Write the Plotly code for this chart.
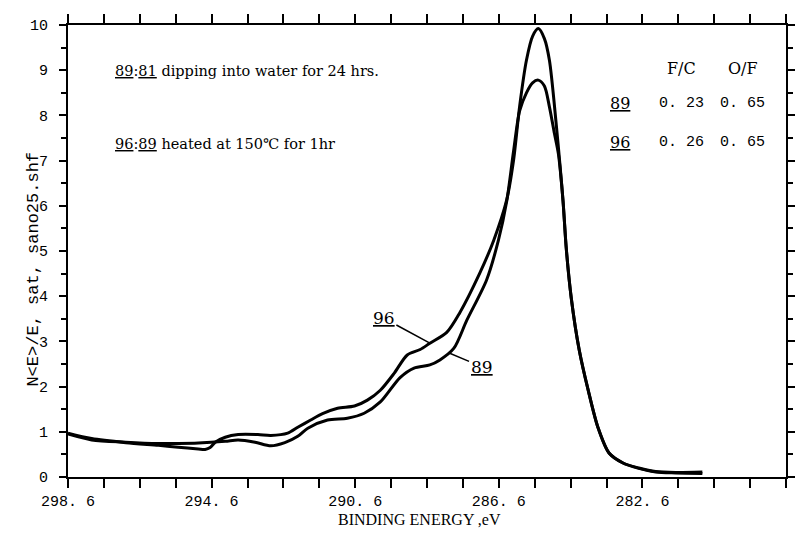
import numpy as np
import plotly.graph_objects as go

# C1s spectra (binding energy in eV, normalised intensity)
energy_96 = [298.60, 297.94, 296.99, 296.08, 295.53, 294.97, 294.78, 294.64, 294.50, 294.22,
             293.86, 293.31, 292.95, 292.48, 292.20, 291.84, 291.51, 291.09, 290.62, 290.26,
             289.90, 289.51, 289.15, 288.79, 288.52, 288.05, 287.69, 287.13, 286.74, 286.38,
             286.19, 286.02, 285.83, 285.66, 285.50, 285.33, 285.19, 285.00, 284.89, 284.81,
             284.72, 284.58, 284.36, 284.11, 283.84, 283.53, 283.14, 282.70, 282.23, 281.67,
             280.93]
counts_96 = [0.97, 0.85, 0.76, 0.70, 0.66, 0.62, 0.61, 0.65, 0.77, 0.88,
             0.94, 0.94, 0.92, 0.97, 1.10, 1.26, 1.40, 1.52, 1.57, 1.70,
             1.92, 2.30, 2.70, 2.82, 2.96, 3.20, 3.63, 4.51, 5.24, 6.13,
             7.00, 8.20, 9.22, 9.75, 9.92, 9.70, 9.22, 7.80, 6.85, 6.10,
             5.05, 3.95, 2.81, 1.92, 1.10, 0.53, 0.31, 0.20, 0.12, 0.10,
             0.11]

energy_89 = [298.60, 297.94, 296.99, 296.08, 295.53, 294.97, 294.22, 293.86, 293.39, 292.95,
             292.56, 292.20, 291.92, 291.37, 290.82, 290.35, 289.90, 289.35, 288.96, 288.52,
             288.24, 287.85, 287.49, 286.94, 286.61, 286.38, 286.19, 286.02, 285.83, 285.66,
             285.50, 285.33, 285.19, 285.05, 284.94, 284.81, 284.72, 284.58, 284.36, 284.11,
             283.84, 283.53, 283.14, 282.70, 282.23, 281.67, 280.93]
counts_89 = [0.95, 0.82, 0.77, 0.74, 0.74, 0.75, 0.79, 0.82, 0.77, 0.69,
             0.76, 0.90, 1.08, 1.26, 1.30, 1.41, 1.66, 2.20, 2.41, 2.48,
             2.59, 2.85, 3.47, 4.36, 5.24, 6.10, 7.20, 8.10, 8.50, 8.72,
             8.78, 8.65, 8.19, 7.60, 7.15, 6.10, 5.05, 3.95, 2.81, 1.92,
             1.10, 0.53, 0.31, 0.19, 0.11, 0.09, 0.08]

# axis ticks: one tick per eV, labels every 4 eV
x_tick_vals = [round(298.6 - i, 1) for i in range(21)]
x_tick_labels = {298.6: "298. 6", 294.6: "294. 6", 290.6: "290. 6",
                 286.6: "286. 6", 282.6: "282. 6", 278.6: "278. 5"}
x_tick_text = [x_tick_labels.get(v, "") for v in x_tick_vals]
y_tick_vals = list(range(0, 11))

# composition table
ratio_headers = ["F/C", "O/F"]
ratio_samples = ["89", "96"]
ratio_fc = ["0. 23", "0. 26"]
ratio_of = ["0. 65", "0. 65"]

SERIF = "DejaVu Serif, Liberation Serif, serif"
TIMES = "Liberation Serif, serif"
MONO = "Liberation Mono, DejaVu Sans Mono, monospace"

fig = go.Figure()
for e, c, name in [(energy_96, counts_96, "96"), (energy_89, counts_89, "89")]:
    fig.add_trace(go.Scatter(
        x=e, y=c, mode="lines", name=name,
        line=dict(color="black", width=3, shape="spline", smoothing=0.8),
        showlegend=False, hoverinfo="skip",
    ))

axis_common = dict(
    showline=True, linecolor="black", linewidth=2,
    mirror="ticks", ticks="outside", tickcolor="black",
    showgrid=False, zeroline=False,
    tickfont=dict(family=MONO, size=15, color="black"),
)

fig.update_xaxes(
    **axis_common,
    range=[298.6, 278.6], autorange=False,
    tickmode="array", tickvals=x_tick_vals, ticktext=x_tick_text,
    ticklen=9, tickwidth=2,
)
fig.update_yaxes(
    **axis_common,
    range=[0, 10], autorange=False,
    tickvals=y_tick_vals, ticklen=7, tickwidth=2,
    ticklabelstandoff=8,
    minor=dict(dtick=0.5, tick0=0, ticks="outside", ticklen=5,
               tickwidth=2, tickcolor="black", showgrid=False),
)

annotations = []

# sample history notes
annotations.append(dict(
    x=297.35, y=8.98, xref="x", yref="y", xanchor="left", yanchor="middle",
    text="<u>89</u>:<u>81</u> dipping into water for 24 hrs.",
    showarrow=False, font=dict(family=SERIF, size=14.5, color="black"),
))
annotations.append(dict(
    x=297.35, y=7.37, xref="x", yref="y", xanchor="left", yanchor="middle",
    text="<u>96</u>:<u>89</u> heated at 150℃ for 1hr",
    showarrow=False, font=dict(family=SERIF, size=14.5, color="black"),
))

# F/C and O/F ratio table
col_x = [281.52, 279.8]
for hx, h in zip(col_x, ratio_headers):
    annotations.append(dict(x=hx, y=9.03, xref="x", yref="y", text=h,
                            showarrow=False,
                            font=dict(family=SERIF, size=16, color="black")))
for row_y, s, fc, of in zip([8.27, 7.41], ratio_samples, ratio_fc, ratio_of):
    annotations.append(dict(x=283.22, y=row_y, xref="x", yref="y",
                            text=f"<u>{s}</u>", showarrow=False,
                            font=dict(family=SERIF, size=16, color="black")))
    annotations.append(dict(x=col_x[0], y=row_y, xref="x", yref="y", text=fc,
                            showarrow=False,
                            font=dict(family=MONO, size=15, color="black")))
    annotations.append(dict(x=col_x[1], y=row_y, xref="x", yref="y", text=of,
                            showarrow=False,
                            font=dict(family=MONO, size=15, color="black")))

# curve labels with leader lines
e_lab96 = 288.52
v_lab96 = float(np.interp(e_lab96, energy_96[::-1], counts_96[::-1]))
annotations.append(dict(
    x=e_lab96, y=v_lab96, xref="x", yref="y", text="<u>96</u>",
    showarrow=True, arrowhead=0, arrowwidth=1.5, arrowcolor="black",
    ax=-46, ay=-25, font=dict(family=SERIF, size=17, color="black"),
))
e_lab89 = 288.0
v_lab89 = float(np.interp(e_lab89, energy_89[::-1], counts_89[::-1]))
annotations.append(dict(
    x=e_lab89, y=v_lab89, xref="x", yref="y", text="<u>89</u>",
    showarrow=True, arrowhead=0, arrowwidth=1.5, arrowcolor="black",
    ax=33, ay=14, font=dict(family=SERIF, size=17, color="black"),
))

# axis titles
annotations.append(dict(
    x=0, y=0.46, xref="paper", yref="paper", xshift=-46,
    text="N&lt;E&gt;/E, sat, sano25.shf", textangle=-90, showarrow=False,
    font=dict(family=MONO, size=17, color="black"),
))
annotations.append(dict(
    x=0.49, y=0, xref="paper", yref="paper", yshift=-53,
    text="BINDING ENERGY ,eV", showarrow=False,
    font=dict(family=TIMES, size=16, color="black"),
))

fig.update_layout(
    width=807, height=544,
    margin=dict(l=68, r=21, t=25, b=67),
    paper_bgcolor="white", plot_bgcolor="white",
    annotations=annotations,
)

fig.write_html("out.html")
